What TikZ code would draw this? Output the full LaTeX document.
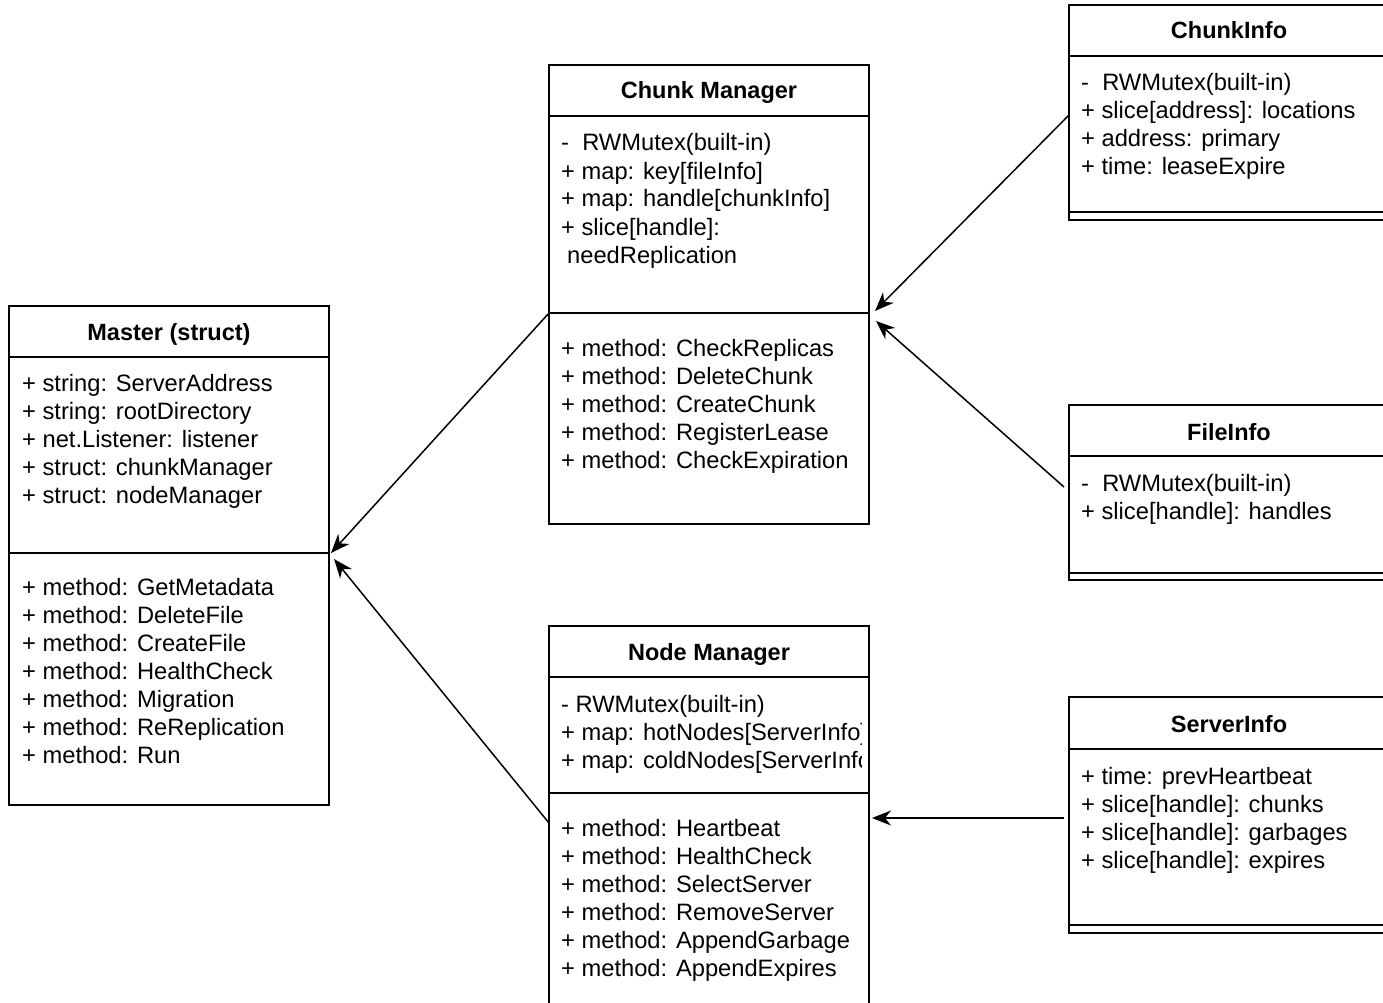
\documentclass[tikz,border=0pt]{standalone}
\usepackage{fontspec}
\setmainfont{Liberation Sans}
\usetikzlibrary{arrows.meta}
\begin{document}
\begin{tikzpicture}[x=1pt,y=-1pt,
  comp/.style={draw, line width=1.3pt, anchor=north west, inner sep=0pt, outer sep=0pt, minimum width=320pt},
  ctitle/.style={anchor=base, inner sep=0pt, font=\fontsize{23.5}{28}\selectfont\bfseries},
  row/.style={anchor=base west, inner sep=0pt, font=\fontsize{23.7}{28}\selectfont},
  link/.style={line width=1.5pt, -{Stealth[length=19pt,width=15pt,inset=6pt]}}
]
\useasboundingbox (0,0) rectangle (1383,1003);
\clip (0,0) rectangle (1383,1003);

% ---------------- Master
\node[comp, minimum height=51pt]  (mhead) at (9,306) {};
\node[comp, minimum height=196pt] (mattr) at (9,357) {};
\node[comp, minimum height=252pt] (mmeth) at (9,553) {};
\node[ctitle] (mtitle) at (169,340) {Master (struct)};
\foreach \t [count=\i] in {{+ string: ServerAddress},{+ string: rootDirectory},{+ net.Listener: listener},{+ struct: chunkManager},{+ struct: nodeManager}}
  \node[row] (ma\i) at (22,{391+28*(\i-1)}) {\t};
\foreach \t [count=\i] in {{+ method: GetMetadata},{+ method: DeleteFile},{+ method: CreateFile},{+ method: HealthCheck},{+ method: Migration},{+ method: ReReplication},{+ method: Run}}
  \node[row] (mm\i) at (22,{595+28*(\i-1)}) {\t};

% ---------------- Chunk Manager
\node[comp, minimum height=51pt]  (cmhead) at (549,65) {};
\node[comp, minimum height=197pt] (cmattr) at (549,116) {};
\node[comp, minimum height=211pt] (cmmeth) at (549,313) {};
\node[ctitle] (cmtitle) at (709,99) {Chunk Manager};
\foreach \t [count=\i] in {{-\ \ RWMutex(built-in)},{+ map: key[fileInfo]},{+ map: handle[chunkInfo]},{+ slice[handle]:},{\hspace*{6pt}needReplication}}
  \node[row] (cma\i) at (561,{151+28*(\i-1)}) {\t};
\foreach \t [count=\i] in {{+ method: CheckReplicas},{+ method: DeleteChunk},{+ method: CreateChunk},{+ method: RegisterLease},{+ method: CheckExpiration}}
  \node[row] (cmm\i) at (561,{356+28*(\i-1)}) {\t};

% ---------------- Node Manager
\node[comp, minimum height=51pt]  (nmhead) at (549,626) {};
\node[comp, minimum height=116pt] (nmattr) at (549,677) {};
\node[comp, minimum height=240pt] (nmmeth) at (549,793) {};
\node[ctitle] (nmtitle) at (709,660) {Node Manager};
\begin{scope}
\clip (549,626) rectangle (861,1003);
\foreach \t [count=\i] in {{- RWMutex(built-in)},{+ map: hotNodes[ServerInfo]},{+ map: coldNodes[ServerInfo]}}
  \node[row] (nma\i) at (561,{712+28*(\i-1)}) {\t};
\end{scope}
\foreach \t [count=\i] in {{+ method: Heartbeat},{+ method: HealthCheck},{+ method: SelectServer},{+ method: RemoveServer},{+ method: AppendGarbage},{+ method: AppendExpires}}
  \node[row] (nmm\i) at (561,{836+28*(\i-1)}) {\t};

% ---------------- ChunkInfo
\node[comp, minimum height=51pt]  (cihead) at (1069,5) {};
\node[comp, minimum height=156pt] (ciattr) at (1069,56) {};
\node[comp, minimum height=8pt]   (cimeth) at (1069,212) {};
\node[ctitle] (cititle) at (1229,39) {ChunkInfo};
\foreach \t [count=\i] in {{-\ \ RWMutex(built-in)},{+ slice[address]: locations},{+ address: primary},{+ time: leaseExpire}}
  \node[row] (cia\i) at (1081,{91+28*(\i-1)}) {\t};

% ---------------- FileInfo
\node[comp, minimum height=51pt]  (fihead) at (1069,405) {};
\node[comp, minimum height=117pt] (fiattr) at (1069,456) {};
\node[comp, minimum height=7pt]   (fimeth) at (1069,573) {};
\node[ctitle] (fititle) at (1229,440) {FileInfo};
\foreach \t [count=\i] in {{-\ \ RWMutex(built-in)},{+ slice[handle]: handles}}
  \node[row] (fia\i) at (1081,{491+28*(\i-1)}) {\t};

% ---------------- ServerInfo
\node[comp, minimum height=52pt]  (sihead) at (1069,697) {};
\node[comp, minimum height=176pt] (siattr) at (1069,749) {};
\node[comp, minimum height=8pt]   (simeth) at (1069,925) {};
\node[ctitle] (sititle) at (1229,732) {ServerInfo};
\foreach \t [count=\i] in {{+ time: prevHeartbeat},{+ slice[handle]: chunks},{+ slice[handle]: garbages},{+ slice[handle]: expires}}
  \node[row] (sia\i) at (1081,{784+28*(\i-1)}) {\t};

% ---------------- Connectors
\draw[link] (cmmeth.north west) -- ([shift={(2,0)}]mattr.south east);
\draw[link] ([shift={(0,30)}]nmmeth.north west) -- ([shift={(5,6)}]mattr.south east);
\draw[link] ([shift={(0,59)}]ciattr.north west) -- ([shift={(6,-2)}]cmattr.south east);
\draw[link] ([shift={(-5,31)}]fiattr.north west) -- ([shift={(7,8)}]cmmeth.north east);
\draw[link] ([shift={(-5,69)}]siattr.north west) -- ([shift={(3,25)}]nmmeth.north east);
\end{tikzpicture}
\end{document}
